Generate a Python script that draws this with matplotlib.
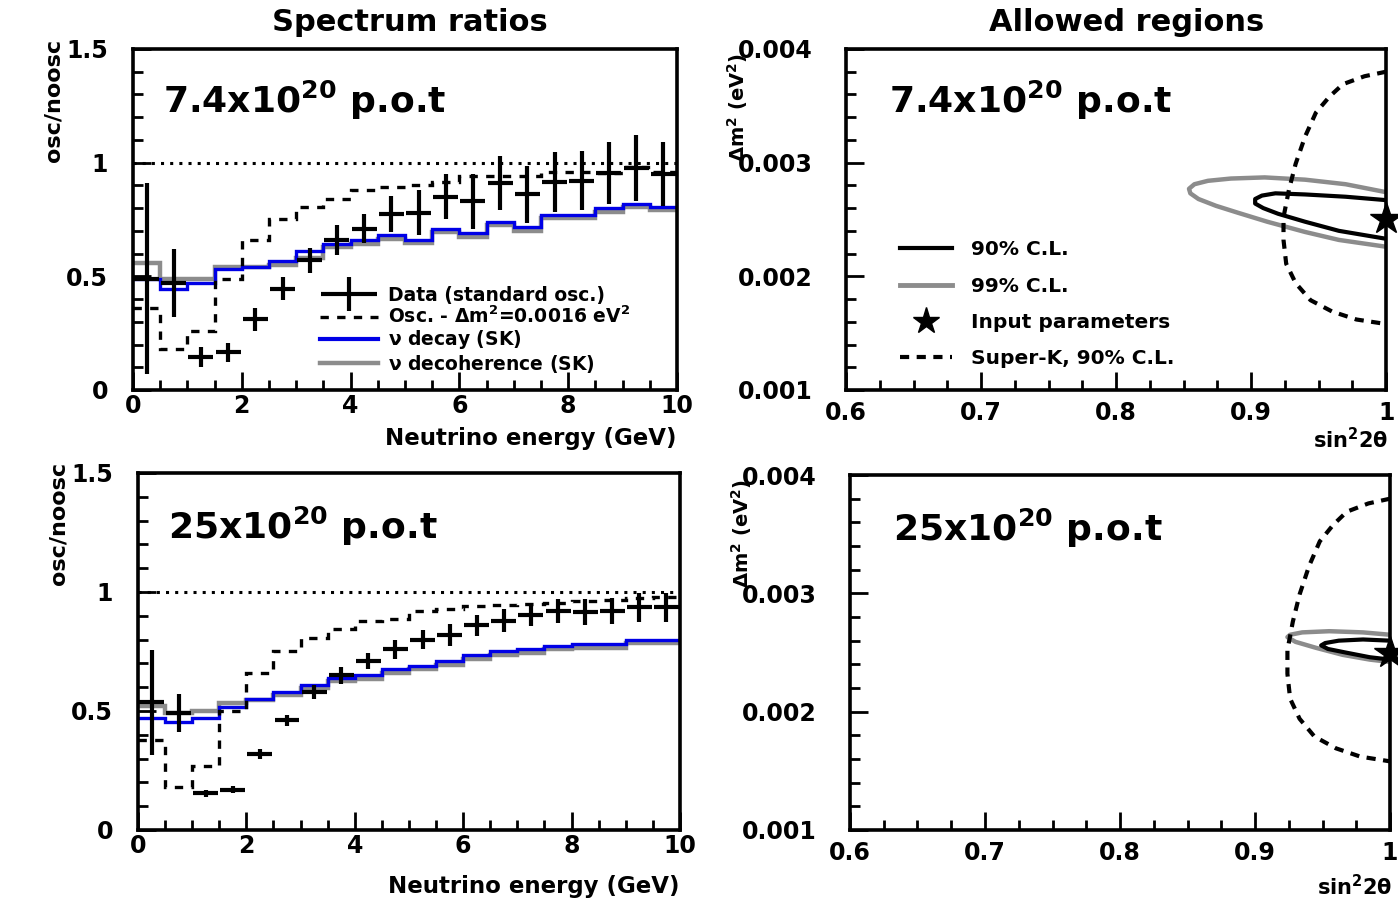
"""
Spectrum ratios and allowed regions, two exposures (7.4e20 and 25e20 p.o.t).
"""
import numpy as np
import matplotlib.pyplot as plt
from matplotlib.ticker import MultipleLocator, FuncFormatter
from matplotlib.container import ErrorbarContainer
from matplotlib.legend_handler import HandlerErrorbar

plt.rcParams['font.family'] = ['DejaVu Sans']
plt.rcParams['font.weight'] = 'bold'
plt.rcParams['axes.labelweight'] = 'bold'
plt.rcParams['mathtext.default'] = 'bf'

# ---- spectrum ratio data, 0.5 GeV bins from 0 to 10 GeV ----
bin_edges = np.arange(0, 10.5, 0.5)
bin_centers = 0.5 * (bin_edges[:-1] + bin_edges[1:])

# 7.4e20 p.o.t
data_74 = [0.49, 0.47, 0.145, 0.165, 0.31, 0.446, 0.57, 0.66, 0.71, 0.775,
           0.78, 0.85, 0.83, 0.91, 0.86, 0.915, 0.92, 0.955, 0.975, 0.95]
err_74 = [0.42, 0.15, 0.045, 0.04, 0.05, 0.05, 0.055, 0.065, 0.065, 0.08,
          0.10, 0.10, 0.12, 0.12, 0.125, 0.13, 0.13, 0.135, 0.145, 0.14]
osc16_74 = [0.36, 0.18, 0.26, 0.49, 0.66, 0.75, 0.805, 0.84, 0.88, 0.895,
            0.90, 0.915, 0.94, 0.94, 0.94, 0.96, 0.96, 0.955, 0.98, 0.96]
decay_74 = [0.49, 0.446, 0.47, 0.53, 0.54, 0.566, 0.61, 0.64, 0.66, 0.68,
            0.66, 0.71, 0.69, 0.74, 0.715, 0.77, 0.77, 0.80, 0.82, 0.805]
decoh_74 = [0.56, 0.49, 0.49, 0.54, 0.54, 0.55, 0.58, 0.63, 0.64, 0.665,
            0.645, 0.695, 0.675, 0.725, 0.70, 0.755, 0.755, 0.785, 0.805, 0.79]

# 25e20 p.o.t
data_25 = [0.537, 0.49, 0.155, 0.17, 0.32, 0.46, 0.58, 0.65, 0.71, 0.76,
           0.80, 0.82, 0.86, 0.88, 0.905, 0.92, 0.915, 0.92, 0.935, 0.935]
err_25 = [0.22, 0.08, 0.015, 0.015, 0.02, 0.025, 0.03, 0.035, 0.035, 0.04,
          0.04, 0.045, 0.045, 0.05, 0.05, 0.05, 0.055, 0.055, 0.06, 0.06]
osc16_25 = [0.38, 0.18, 0.27, 0.50, 0.66, 0.75, 0.805, 0.845, 0.88, 0.885,
            0.92, 0.93, 0.94, 0.945, 0.95, 0.955, 0.96, 0.965, 0.975, 0.98]
decay_25 = [0.47, 0.455, 0.47, 0.515, 0.55, 0.58, 0.61, 0.64, 0.65, 0.675,
            0.69, 0.71, 0.735, 0.75, 0.76, 0.775, 0.78, 0.78, 0.80, 0.80]
decoh_25 = [0.52, 0.49, 0.50, 0.535, 0.545, 0.565, 0.595, 0.625, 0.635, 0.66,
            0.675, 0.695, 0.72, 0.735, 0.745, 0.76, 0.765, 0.765, 0.785, 0.785]

# ---- allowed regions (sin^2 2theta, dm^2 in eV^2) ----
sk_sin2 = [1.0, 0.984, 0.968, 0.958, 0.948, 0.940, 0.933, 0.928, 0.924, 0.924,
           0.926, 0.933, 0.944, 0.960, 0.978, 1.0]
sk_dm2 = [0.00380, 0.00376, 0.00369, 0.00358, 0.00344, 0.00323, 0.00299, 0.00276,
          0.00252, 0.00232, 0.00211, 0.00194, 0.00179, 0.00169, 0.00162, 0.00158]

cl99_74_sin2 = [1.0, 0.97, 0.94, 0.91, 0.885, 0.868, 0.858, 0.854, 0.855, 0.861,
                0.874, 0.89, 0.912, 0.94, 0.965, 1.0]
cl99_74_dm2 = [0.00274, 0.00281, 0.00285, 0.00287, 0.00286, 0.00284, 0.00281, 0.00277,
               0.00273, 0.00268, 0.00262, 0.00256, 0.00248, 0.00239, 0.00232, 0.00226]
cl90_74_sin2 = [1.0, 0.97, 0.94, 0.918, 0.908, 0.903, 0.903, 0.909, 0.92, 0.94,
                0.965, 1.0]
cl90_74_dm2 = [0.00267, 0.00270, 0.00272, 0.00273, 0.00271, 0.00268, 0.00264,
               0.00260, 0.00255, 0.00248, 0.00240, 0.00233]

cl99_25_sin2 = [1.0, 0.98, 0.955, 0.935, 0.926, 0.924, 0.93, 0.945, 0.965, 0.985, 1.0]
cl99_25_dm2 = [0.00265, 0.00267, 0.00268, 0.00267, 0.00265, 0.00263, 0.00259,
               0.00254, 0.00248, 0.00244, 0.00242]
cl90_25_sin2 = [1.0, 0.98, 0.962, 0.952, 0.949, 0.954, 0.967, 0.985, 1.0]
cl90_25_dm2 = [0.00260, 0.00261, 0.00260, 0.00258, 0.00256, 0.00253, 0.00250,
               0.00246, 0.00244]

input_point = (1.0, 0.0025)

BLUE = '#0000e6'
GRAY = '#8c8c8c'
SK_DASH = (0, (2.2, 1.8))


def style_axes(ax, pad):
    """ROOT-like look: thick frame, inward ticks on left/bottom only."""
    ax.tick_params(which='both', direction='in', top=False, right=False, width=2,
                   labelsize=17)
    ax.tick_params(which='major', length=13)
    ax.tick_params(which='minor', length=7)
    ax.tick_params(axis='y', pad=pad)
    ax.tick_params(axis='x', pad=3)
    for s in ax.spines.values():
        s.set_linewidth(2.6)


def plot_spectrum(ax, data, err, osc16, decay, decoh, label, xlab_y, legend=False):
    ax.stairs(decoh, bin_edges, color=GRAY, linewidth=3.2, baseline=None)
    ax.stairs(decay, bin_edges, color=BLUE, linewidth=2.4, baseline=None)
    ax.stairs(osc16, bin_edges, color='black', linewidth=2.4, linestyle=(0, (2.5, 2.5)),
              baseline=None)
    ax.axhline(1.0, color='black', linewidth=2.2, linestyle=(0, (1, 2)))
    eb = ax.errorbar(bin_centers, data, yerr=err, xerr=0.23, fmt='none',
                     ecolor='black', elinewidth=3, capsize=0)

    ax.set_xlim(0, 10)
    ax.set_ylim(0, 1.5)
    ax.xaxis.set_major_locator(MultipleLocator(2))
    ax.xaxis.set_minor_locator(MultipleLocator(0.5))
    ax.yaxis.set_major_locator(MultipleLocator(0.5))
    ax.yaxis.set_minor_locator(MultipleLocator(0.1))
    ax.yaxis.set_major_formatter(FuncFormatter(lambda v, p: f'{v:g}'))
    style_axes(ax, pad=18)

    ax.set_xlabel('Neutrino energy (GeV)', fontsize=16.5, loc='right')
    ax.xaxis.set_label_coords(1.0, xlab_y)
    ax.set_ylabel('osc/noosc', fontsize=16, loc='top')
    ax.yaxis.set_label_coords(-0.128, 1.03)
    ax.text(0.055, 0.85, label, transform=ax.transAxes, fontsize=26,
            ha='left', va='center')

    if legend:
        handles = [eb,
                   plt.Line2D([], [], color='black', lw=2.4, ls=(0, (2.5, 2.5))),
                   plt.Line2D([], [], color=BLUE, lw=3),
                   plt.Line2D([], [], color=GRAY, lw=3.2)]
        labels = ['Data (standard osc.)',
                  'Osc. - $\\Delta$m$^{2}$=0.0016 eV$^{2}$',
                  '$\\nu$ decay (SK)',
                  '$\\nu$ decoherence (SK)']
        ax.legend(handles, labels, loc='lower left', bbox_to_anchor=(0.344, 0.045),
                  frameon=False, fontsize=13.5, handlelength=3.1, handletextpad=0.5,
                  labelspacing=0.06, borderpad=0, borderaxespad=0,
                  handler_map={ErrorbarContainer: HandlerErrorbar(xerr_size=1.5,
                                                                  yerr_size=0.9)})


def plot_region(ax, cl90_x, cl90_y, cl99_x, cl99_y, label, xlab_y, legend=False):
    ax.plot(cl99_x, cl99_y, color=GRAY, linewidth=3.2)
    ax.plot(cl90_x, cl90_y, color='black', linewidth=3)
    ax.plot(sk_sin2, sk_dm2, color='black', linewidth=3, linestyle=SK_DASH)
    ax.plot(*input_point, marker='*', color='black', markersize=24, linestyle='none',
            clip_on=False, zorder=5)

    ax.set_xlim(0.6, 1.0)
    ax.set_ylim(0.001, 0.004)
    ax.xaxis.set_major_locator(MultipleLocator(0.1))
    ax.xaxis.set_minor_locator(MultipleLocator(0.025))
    ax.yaxis.set_major_locator(MultipleLocator(0.001))
    ax.yaxis.set_minor_locator(MultipleLocator(0.0002))
    ax.xaxis.set_major_formatter(FuncFormatter(lambda v, p: f'{v:g}'))
    ax.yaxis.set_major_formatter(FuncFormatter(lambda v, p: f'{v:.3f}'))
    style_axes(ax, pad=24)
    ax.tick_params(axis='x', pad=8)

    ax.set_xlabel('sin$^{2}$2$\\theta$', fontsize=15, loc='right')
    ax.xaxis.set_label_coords(1.005, xlab_y)
    ax.set_ylabel('$\\Delta$m$^{2}$ (eV$^{2}$)', fontsize=14, loc='top')
    ax.yaxis.set_label_coords(-0.178, 0.99)
    ax.text(0.08, 0.85, label, transform=ax.transAxes, fontsize=26,
            ha='left', va='center')

    if legend:
        handles = [plt.Line2D([], [], color='black', lw=3),
                   plt.Line2D([], [], color=GRAY, lw=3.5),
                   plt.Line2D([], [], color='black', marker='*', ms=20, ls='none'),
                   plt.Line2D([], [], color='black', lw=3, ls=SK_DASH)]
        labels = ['90% C.L.', '99% C.L.', 'Input parameters', 'Super-K, 90% C.L.']
        ax.legend(handles, labels, loc='lower left', bbox_to_anchor=(0.1, 0.065),
                  frameon=False, fontsize=14.5, handlelength=2.6, handletextpad=0.9,
                  labelspacing=0.85, borderpad=0, borderaxespad=0)


fig = plt.figure(figsize=(13.98, 9), dpi=100)
ax_tl = fig.add_axes([0.0951, 0.5667, 0.3891, 0.3789])
ax_tr = fig.add_axes([0.6052, 0.5667, 0.3863, 0.3789])
ax_bl = fig.add_axes([0.0987, 0.0778, 0.3877, 0.3967])
ax_br = fig.add_axes([0.6080, 0.0778, 0.3863, 0.3944])

label_74 = '7.4x10$^{20}$ p.o.t'
label_25 = '25x10$^{20}$ p.o.t'

plot_spectrum(ax_tl, data_74, err_74, osc16_74, decay_74, decoh_74, label_74, -0.11,
              legend=True)
plot_spectrum(ax_bl, data_25, err_25, osc16_25, decay_25, decoh_25, label_25, -0.125)
plot_region(ax_tr, cl90_74_sin2, cl90_74_dm2, cl99_74_sin2, cl99_74_dm2, label_74,
            -0.11, legend=True)
plot_region(ax_br, cl90_25_sin2, cl90_25_dm2, cl99_25_sin2, cl99_25_dm2, label_25,
            -0.125)

fig.text(0.293, 0.975, 'Spectrum ratios', fontsize=22, ha='center', va='center')
fig.text(0.806, 0.975, 'Allowed regions', fontsize=22, ha='center', va='center')

fig.savefig('out.png', dpi=100)
